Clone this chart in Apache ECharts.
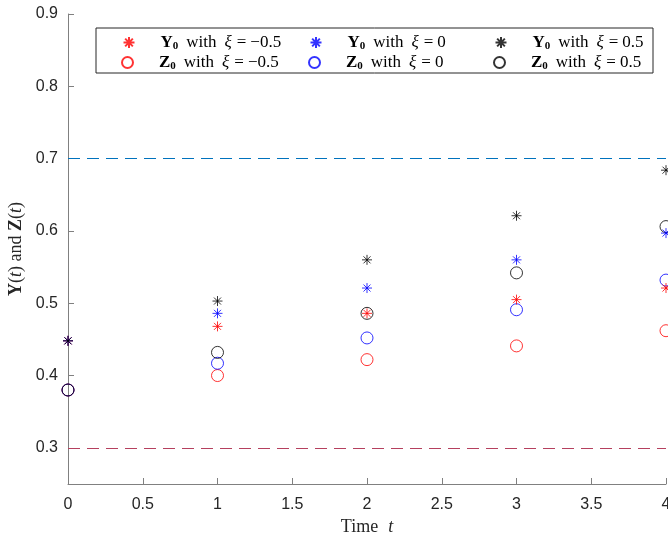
<!DOCTYPE html>
<html>
<head>
<meta charset="utf-8">
<script src="https://cdn.jsdelivr.net/npm/echarts@6/dist/echarts.min.js"></script>
<style>html,body{margin:0;padding:0;background:#fff}#c{width:668px;height:539px}</style>
</head>
<body>
<div id="c"></div>
<script>
// ---- data ----
const times = [0, 1, 2, 3, 4];
const Y_xi_m05 = [0.448, 0.468, 0.486, 0.505, 0.521];
const Y_xi_0   = [0.448, 0.486, 0.521, 0.560, 0.597];
const Y_xi_05  = [0.448, 0.503, 0.560, 0.621, 0.684];
const Z_xi_m05 = [0.380, 0.400, 0.422, 0.441, 0.462];
const Z_xi_0   = [0.380, 0.417, 0.452, 0.491, 0.532];
const Z_xi_05  = [0.380, 0.432, 0.486, 0.542, 0.606];
const upperBound = 0.7;
const lowerBound = 0.3;
const xTicks = [0, 0.5, 1, 1.5, 2, 2.5, 3, 3.5, 4];
const yTicks = [0.3, 0.4, 0.5, 0.6, 0.7, 0.8, 0.9];
const seriesNames = ['Y_-0.5', 'Y_0', 'Y_0.5', 'Z_-0.5', 'Z_0', 'Z_0.5'];
const legendLabels = {
  'Y_-0.5': ['Y', '−0.5'], 'Y_0': ['Y', '0'], 'Y_0.5': ['Y', '0.5'],
  'Z_-0.5': ['Z', '−0.5'], 'Z_0': ['Z', '0'], 'Z_0.5': ['Z', '0.5']
};

const STAR = 'path://M0,5L10,5M5,0L5,10M1.5,1.5L8.5,8.5M1.5,8.5L8.5,1.5';
const serif = 'Liberation Serif';
const pair = (ys) => times.map((t, i) => [t, ys[i]]);

function starSeries(name, ys, color) {
  return {
    name, type: 'scatter', data: pair(ys), symbol: STAR, symbolSize: 10,
    itemStyle: { color: 'none', borderColor: color, borderWidth: 1 },
    emphasis: { disabled: true }, z: 3
  };
}
function circSeries(name, ys, color) {
  return {
    name, type: 'scatter', data: pair(ys), symbol: 'circle', symbolSize: 12,
    itemStyle: { color: 'rgba(0,0,0,0)', borderColor: color, borderWidth: 1 },
    emphasis: { disabled: true }, z: 2
  };
}

const richLegend = {
  b: { fontFamily: serif, fontWeight: 'bold', fontSize: 17, color: '#000' },
  s: { fontFamily: serif, fontWeight: 'bold', fontSize: 11, color: '#000', verticalAlign: 'bottom', padding: [7, 0, 0, 0] },
  w: { fontFamily: serif, fontSize: 17, color: '#000', padding: [0, 8, 0, 8] },
  e: { fontFamily: serif, fontSize: 17, color: '#000', padding: [0, 4, 0, 5] },
  t: { fontFamily: serif, fontSize: 17, color: '#000' },
  i: { fontFamily: serif, fontStyle: 'italic', fontSize: 17, color: '#000' }
};
const legendFormatter = (name) => {
  const [v, xi] = legendLabels[name];
  return '{b|' + v + '}{s|0}{w|with}{i|ξ}{e|=}{t|' + xi + '}';
};
const legendPos = [
  [121, 34], [308, 34], [493, 34],
  [121, 54], [308, 54], [493, 54]
];
const legends = seriesNames.map((n, k) => ({
  data: [n], left: legendPos[k][0], top: legendPos[k][1], padding: 0,
  itemWidth: 11, itemHeight: 11, itemGap: 0, selectedMode: false,
  formatter: legendFormatter, z: 20,
  textStyle: { rich: richLegend, padding: [0, 0, 0, 21] }
}));

const chart = echarts.init(document.getElementById('c'), null, { renderer: 'canvas' });
chart.setOption({
  animation: false,
  backgroundColor: '#fff',
  grid: { left: 68, right: 2, top: 14, bottom: 55, containLabel: false, outerBoundsMode: 'none' },
  graphic: [{
    type: 'rect', shape: { x: 96, y: 28, width: 557, height: 45 },
    style: { fill: '#fff', stroke: '#262626', lineWidth: 1 }, z: 10
  }],
  legend: legends,
  xAxis: {
    type: 'value', min: 0, max: 4,
    name: '{n|Time}{i|t}', nameLocation: 'middle', nameGap: 33,
    nameTextStyle: { rich: {
      n: { fontFamily: serif, fontSize: 18, color: '#262626', padding: [0, 10, 0, 0] },
      i: { fontFamily: serif, fontStyle: 'italic', fontSize: 18, color: '#262626' } } },
    axisLine: { show: true, onZero: false, lineStyle: { color: '#808080', width: 1 } },
    axisTick: { show: true, inside: true, length: 6, customValues: xTicks, lineStyle: { color: '#808080' } },
    axisLabel: { customValues: xTicks, color: '#262626', fontFamily: 'Liberation Sans', fontSize: 16, margin: 13, formatter: v => String(v) },
    splitLine: { show: false }
  },
  yAxis: {
    type: 'value', min: 0.25, max: 0.9,
    name: '{b|Y}({i|t}) and {b|Z}({i|t})', nameLocation: 'middle', nameGap: 38, nameRotate: 90,
    nameTextStyle: { rich: {
      b: { fontFamily: serif, fontWeight: 'bold', fontSize: 18, color: '#262626' },
      i: { fontFamily: serif, fontStyle: 'italic', fontSize: 18, color: '#262626' }
    }, fontFamily: serif, fontSize: 18, color: '#262626' },
    axisLine: { show: true, onZero: false, lineStyle: { color: '#808080', width: 1 } },
    axisTick: { show: true, inside: true, length: 6, customValues: yTicks, lineStyle: { color: '#808080' } },
    axisLabel: { customValues: yTicks, color: '#262626', fontFamily: 'Liberation Sans', fontSize: 16, margin: 10, formatter: v => v.toFixed(1) },
    splitLine: { show: false }
  },
  series: [
    {
      name: 'bounds', type: 'line', data: [], silent: true,
      markLine: {
        symbol: 'none', silent: true, label: { show: false },
        data: [
          { yAxis: upperBound, lineStyle: { color: '#0072BD', type: [12, 7], width: 1 } },
          { yAxis: lowerBound, lineStyle: { color: '#B5405E', type: [12, 7], width: 1 } }
        ]
      }
    },
    starSeries('Y_-0.5', Y_xi_m05, '#ff0000'),
    starSeries('Y_0', Y_xi_0, '#0000ff'),
    starSeries('Y_0.5', Y_xi_05, '#000000'),
    circSeries('Z_-0.5', Z_xi_m05, '#ff0000'),
    circSeries('Z_0', Z_xi_0, '#0000ff'),
    circSeries('Z_0.5', Z_xi_05, '#000000')
  ]
});
</script>
</body>
</html>
